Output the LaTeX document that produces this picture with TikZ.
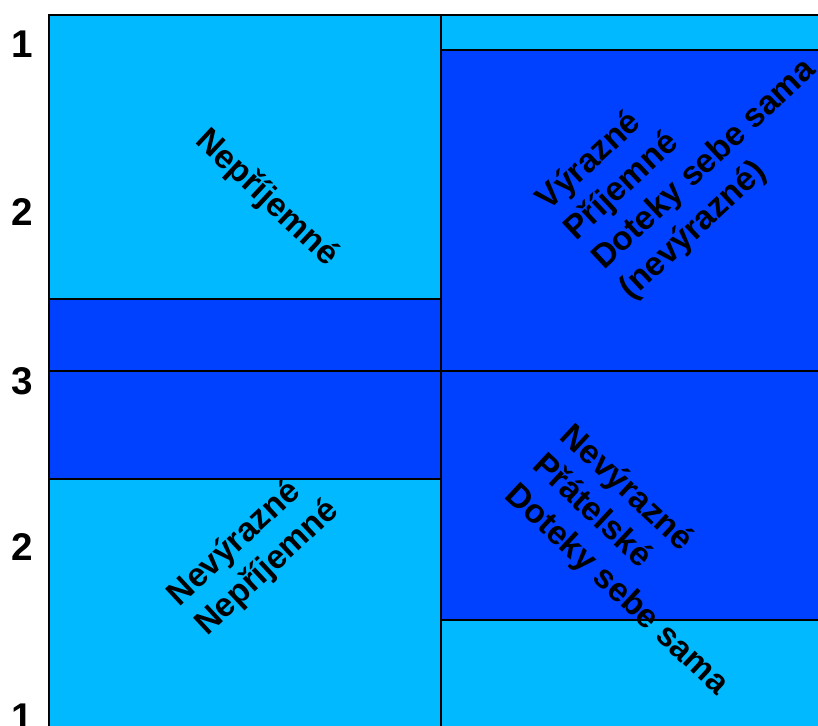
\documentclass[tikz,border=0pt]{standalone}
\usepackage{fontspec}
\setmainfont{Liberation Sans}
\usepackage{tikz}

\definecolor{lightcell}{RGB}{0,185,255}
\definecolor{darkcell}{RGB}{0,64,255}

\begin{document}
\begin{tikzpicture}[
      x=0.02cm, y=-0.02cm,
      cell/.style={draw=black, line width=0.8pt},
      light/.style={cell, fill=lightcell},
      dark/.style={cell, fill=darkcell},
      level/.style={font=\fontsize{22}{26}\selectfont\bfseries, inner sep=0pt},
      tag/.style={font=\fontsize{19}{23}\selectfont\bfseries, align=left, inner sep=0pt, anchor=west},
    ]
    \useasboundingbox (0,0) rectangle (818,725);
    \clip (0,0) rectangle (818,725);
    % left column
    \filldraw [light] (49,15) rectangle (441,299);
    \filldraw [dark] (49,299) rectangle (441,371);
    \filldraw [dark] (49,371) rectangle (441,479);
    \filldraw [light] (49,479) rectangle (441,740);
    % right column
    \filldraw [light] (441,15) rectangle (830,50);
    \filldraw [dark] (441,50) rectangle (830,371);
    \filldraw [dark] (441,371) rectangle (830,620);
    \filldraw [light] (441,620) rectangle (830,740);
    % levels
    \node [level] (l1top) at (22,44) {1};
    \node [level] (l2top) at (22,212) {2};
    \node [level] (l3) at (22,381) {3};
    \node [level] (l2bot) at (22,547) {2};
    \node [level] (l1bot) at (22,717) {1};
    % cell labels
    \node [tag, rotate=-43] (unpleasant) at (200,136) {Nepříjemné};
    \node [tag, rotate=43] (strong) at (584,250) {Výrazné\\Příjemné\\Doteky sebe sama\\(nevýrazné)};
    \node [tag, rotate=43] (weak) at (187,616) {Nevýrazné\\Nepříjemné};
    \node [tag, rotate=-43] (friendly) at (537,461) {Nevýrazné\\Přátelské\\Doteky sebe sama};
  \end{tikzpicture}
\end{document}
